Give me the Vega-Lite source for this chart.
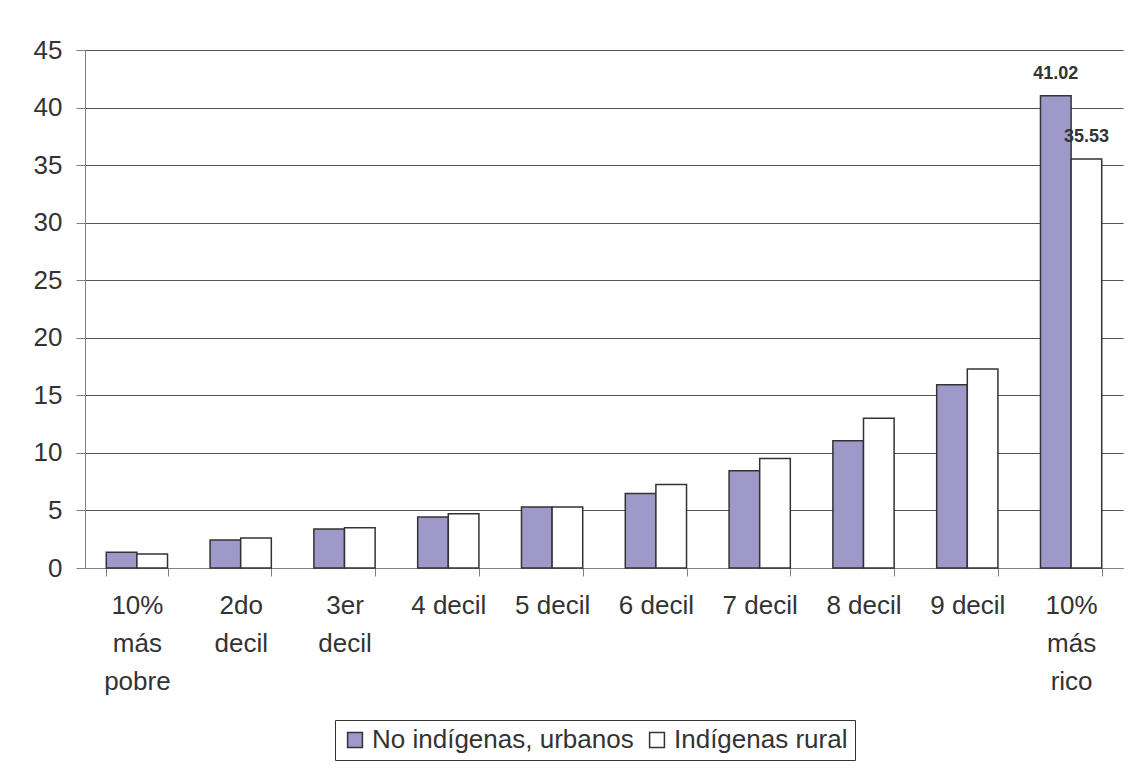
{
  "$schema": "https://vega.github.io/schema/vega-lite/v6.json",
  "width": 1038,
  "height": 518,
  "autosize": "none",
  "padding": {"left": 85, "top": 50, "right": 7, "bottom": 200},
  "background": "white",
  "config": {
    "font": "Liberation Sans",
    "view": {"stroke": null},
    "axis": {"labelFont": "Liberation Sans", "labelColor": "#333333", "labelFontSize": 26}
  },
  "data": {
    "values": [
      {"decil": "10% más pobre", "grupo": "No indígenas, urbanos", "valor": 1.36},
      {"decil": "10% más pobre", "grupo": "Indígenas rural", "valor": 1.21},
      {"decil": "2do decil", "grupo": "No indígenas, urbanos", "valor": 2.43},
      {"decil": "2do decil", "grupo": "Indígenas rural", "valor": 2.6},
      {"decil": "3er decil", "grupo": "No indígenas, urbanos", "valor": 3.38},
      {"decil": "3er decil", "grupo": "Indígenas rural", "valor": 3.5},
      {"decil": "4 decil", "grupo": "No indígenas, urbanos", "valor": 4.42},
      {"decil": "4 decil", "grupo": "Indígenas rural", "valor": 4.71},
      {"decil": "5 decil", "grupo": "No indígenas, urbanos", "valor": 5.29},
      {"decil": "5 decil", "grupo": "Indígenas rural", "valor": 5.3},
      {"decil": "6 decil", "grupo": "No indígenas, urbanos", "valor": 6.47},
      {"decil": "6 decil", "grupo": "Indígenas rural", "valor": 7.25},
      {"decil": "7 decil", "grupo": "No indígenas, urbanos", "valor": 8.44},
      {"decil": "7 decil", "grupo": "Indígenas rural", "valor": 9.52},
      {"decil": "8 decil", "grupo": "No indígenas, urbanos", "valor": 11.05},
      {"decil": "8 decil", "grupo": "Indígenas rural", "valor": 13.02},
      {"decil": "9 decil", "grupo": "No indígenas, urbanos", "valor": 15.93},
      {"decil": "9 decil", "grupo": "Indígenas rural", "valor": 17.28},
      {"decil": "10% más rico", "grupo": "No indígenas, urbanos", "valor": 41.02},
      {"decil": "10% más rico", "grupo": "Indígenas rural", "valor": 35.53}
    ]
  },
  "encoding": {
    "x": {
      "field": "decil",
      "type": "nominal",
      "sort": null,
      "scale": {"paddingInner": 0.41, "paddingOuter": 0.205},
      "axis": {
        "title": null,
        "labelAngle": 0,
        "tickBand": "extent",
        "tickSize": 8,
        "tickColor": "#808080",
        "domainColor": "#808080",
        "labelPadding": 16,
        "labelLineHeight": 38,
        "labelBaseline": "top",
        "labelExpr": "datum.value == '10% más pobre' ? ['10%', 'más', 'pobre'] : datum.value == '2do decil' ? ['2do', 'decil'] : datum.value == '3er decil' ? ['3er', 'decil'] : datum.value == '10% más rico' ? ['10%', 'más', 'rico'] : datum.value"
      }
    },
    "xOffset": {"field": "grupo", "type": "nominal", "sort": ["No indígenas, urbanos", "Indígenas rural"], "scale": {"paddingInner": 0, "paddingOuter": 0}},
    "y": {
      "field": "valor",
      "type": "quantitative",
      "scale": {"domain": [0, 45], "nice": false},
      "axis": {
        "title": null,
        "values": [0, 5, 10, 15, 20, 25, 30, 35, 40, 45],
        "grid": true,
        "gridColor": "#555555",
        "gridWidth": 1,
        "tickSize": 9,
        "tickColor": "#808080",
        "domainColor": "#808080",
        "labelPadding": 14
      }
    }
  },
  "layer": [
    {
      "mark": {"type": "bar", "stroke": "#333333", "strokeWidth": 1.5},
      "encoding": {
        "fill": {
          "field": "grupo",
          "type": "nominal",
          "scale": {"domain": ["No indígenas, urbanos", "Indígenas rural"], "range": ["#9E99C9", "#FFFFFF"]},
          "legend": {
            "title": null,
            "orient": "none",
            "direction": "horizontal",
            "legendX": 250,
            "legendY": 670,
            "padding": 7,
            "strokeColor": "#333333",
            "fillColor": "white",
            "symbolType": "square",
            "symbolSize": 220,
            "symbolStrokeWidth": 1.5,
            "labelFontSize": 26,
            "labelFont": "Liberation Sans",
            "labelColor": "#333333",
            "labelOffset": 4,
            "columnPadding": 10,
            "labelLimit": 400
          }
        }
      }
    },
    {
      "transform": [{"filter": "datum.decil == '10% más rico'"}],
      "mark": {"type": "text", "fontWeight": "bold", "fontSize": 18, "color": "#333333", "baseline": "alphabetic", "dy": -17},
      "encoding": {
        "text": {"field": "valor", "type": "quantitative", "format": ".2f"}
      }
    }
  ]
}
